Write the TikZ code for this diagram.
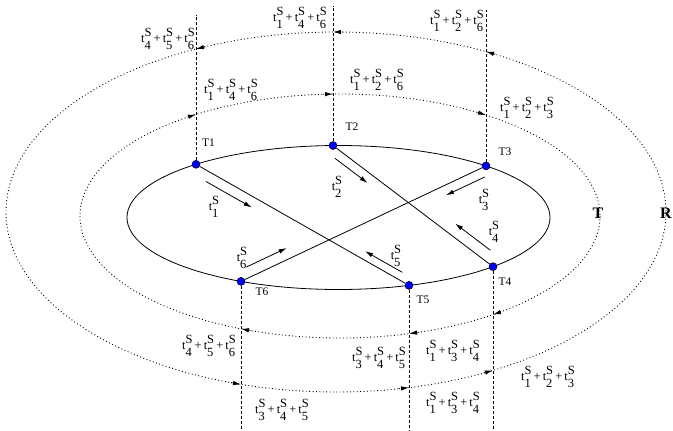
\documentclass[tikz,border=0pt]{standalone}
\usepackage{fontspec}
\setmainfont{Liberation Serif}
\usetikzlibrary{arrows.meta, calc, backgrounds}
\newcommand{\tS}[1]{t\rlap{\raisebox{0.5em}{S}}\raisebox{-0.55em}{#1}\kern0.06em}
\newcommand{\plus}{\,+\,}

\begin{document}
\begin{tikzpicture}[
  x=1pt, y=-1pt,
  >={Latex[length=8pt, width=4.5pt]},
  ring/.style={draw=black, line width=0.8pt},
  chan/.style={draw=black, line width=0.9pt, dash pattern=on 0.9pt off 2.5pt},
  tap/.style={draw=black, line width=0.7pt, dash pattern=on 3pt off 2pt},
  station/.style={circle, fill=blue, draw=black, line width=0.5pt, inner sep=0pt, minimum size=8pt},
  tname/.style={font=\fontsize{11.5}{13}\selectfont, inner sep=0pt},
  sumlab/.style={font=\fontsize{12.5}{14}\selectfont, inner sep=0pt},
  flow/.style={->, draw=black, line width=0.8pt},
  ringname/.style={font=\fontsize{16}{18}\selectfont\bfseries, inner sep=0pt},
]
\useasboundingbox (0,0) rectangle (673,431);

% --- ring centres ---
\coordinate (cS) at (338.5,217.5);
\coordinate (cT) at (340,216);
\coordinate (cR) at (336,212);

% --- stations on the inner ring ---
\foreach \n/\px/\sd in {T1/196/-1, T2/333/-1, T3/486/-1, T4/493/1, T5/409/1, T6/241/1}
  \node[station] (\n) at ($(cS)+({\sd*acos((\px-338.5)/211.5)}:211.5 and 72)$) {};

\node[tname] (T1name) at ([shift={(12.5,-22)}]T1) {T1};
\node[tname] (T2name) at ([shift={(19,-19)}]T2) {T2};
\node[tname] (T3name) at ([shift={(19,-14)}]T3) {T3};
\node[tname] (T4name) at ([shift={(12,15)}]T4) {T4};
\node[tname] (T5name) at ([shift={(14,14)}]T5) {T5};
\node[tname] (T6name) at ([shift={(21,10)}]T6) {T6};

% --- rings, taps and chords (behind the stations) ---
\begin{scope}[on background layer]
  \draw[ring] (cS) ellipse [x radius=211.5, y radius=72];
  \draw[chan] (cT) ellipse [x radius=260, y radius=122];
  \draw[chan] (cR) ellipse [x radius=330, y radius=180];

  \draw[tap] (T1) -- (T1 |- 0,15);
  \draw[tap] (T2) -- (T2 |- 0,6);
  \draw[tap] (T3) -- (T3 |- 0,10);
  \draw[tap] (T4) -- (T4 |- 0,431);
  \draw[tap] (T5) -- (T5 |- 0,431);
  \draw[tap] (T6) -- (T6 |- 0,431);

  \draw[ring] (T1) -- (T5);
  \draw[ring] (T2) -- (T4);
  \draw[ring] (T3) -- (T6);
\end{scope}

% --- direction marks where the taps cross the T ring (clockwise) ---
\foreach \px/\sd in {196/-1, 333/-1, 486/-1, 241/1, 409/1, 493/1} {
  \pgfmathsetmacro\ang{\sd*acos((\px-340)/260)}
  \draw[chan, ->] ($(cT)+({\ang-2.2}:260 and 122)$)
    arc[start angle=\ang-2.2, end angle=\ang, x radius=260, y radius=122];
}

% --- direction marks where the taps cross the R ring (counter-clockwise) ---
\foreach \px/\sd in {196/-1, 333/-1, 486/-1, 241/1, 409/1, 493/1} {
  \pgfmathsetmacro\ang{\sd*acos((\px-336)/330)}
  \draw[chan, ->] ($(cR)+({\ang+1.8}:330 and 180)$)
    arc[start angle=\ang+1.8, end angle=\ang, x radius=330, y radius=180];
}

% --- flow along the chords ---
\draw[flow] ($(T1)!0.07!(T5)!10pt!-90:(T5)$) -- ($(T1)!0.285!(T5)!10pt!-90:(T5)$);
\draw[flow] ($(T2)!0.046!(T4)!9pt!-90:(T4)$) -- ($(T2)!0.25!(T4)!9pt!-90:(T4)$);
\draw[flow] ($(T3)!0.022!(T6)!9.5pt!90:(T6)$) -- ($(T3)!0.18!(T6)!9.5pt!90:(T6)$);
\draw[flow] ($(T4)!0.06!(T2)!11.5pt!-90:(T2)$) -- ($(T4)!0.28!(T2)!11.5pt!-90:(T2)$);
\draw[flow] ($(T5)!0.05!(T1)!8pt!-90:(T1)$) -- ($(T5)!0.225!(T1)!8pt!-90:(T1)$);
\draw[flow] ($(T6)!0.04!(T3)!10.7pt!90:(T3)$) -- ($(T6)!0.205!(T3)!10.7pt!90:(T3)$);

\node[sumlab] (f1) at (214,207) {\tS{1}};
\node[sumlab] (f2) at (337,187) {\tS{2}};
\node[sumlab] (f3) at (484,200) {\tS{3}};
\node[sumlab] (f4) at (494,232) {\tS{4}};
\node[sumlab] (f5) at (396,256) {\tS{5}};
\node[sumlab] (f6) at (242,258) {\tS{6}};

% --- sums on the R ring ---
\node[sumlab] (r1) at (168,39)  {\tS{4}\plus\tS{5}\plus\tS{6}};
\node[sumlab] (r2) at (300,18)  {\tS{1}\plus\tS{4}\plus\tS{6}};
\node[sumlab] (r3) at (457,21)  {\tS{1}\plus\tS{2}\plus\tS{6}};
\node[sumlab] (r4) at (282,410) {\tS{3}\plus\tS{4}\plus\tS{5}};
\node[sumlab] (r5) at (453,403) {\tS{1}\plus\tS{3}\plus\tS{4}};
\node[sumlab] (r6) at (548,377) {\tS{1}\plus\tS{2}\plus\tS{3}};

% --- sums on the T ring ---
\node[sumlab] (s1) at (231,90)  {\tS{1}\plus\tS{4}\plus\tS{6}};
\node[sumlab] (s2) at (377,80)  {\tS{1}\plus\tS{2}\plus\tS{6}};
\node[sumlab] (s3) at (527,108) {\tS{1}\plus\tS{2}\plus\tS{3}};
\node[sumlab] (s4) at (209,346) {\tS{4}\plus\tS{5}\plus\tS{6}};
\node[sumlab] (s5) at (379,358) {\tS{3}\plus\tS{4}\plus\tS{5}};
\node[sumlab] (s6) at (453,351) {\tS{1}\plus\tS{3}\plus\tS{4}};

% --- ring names ---
\node[ringname] (Tring) at (598,213) {T};
\node[ringname] (Rring) at (666,213) {R};

\end{tikzpicture}
\end{document}
